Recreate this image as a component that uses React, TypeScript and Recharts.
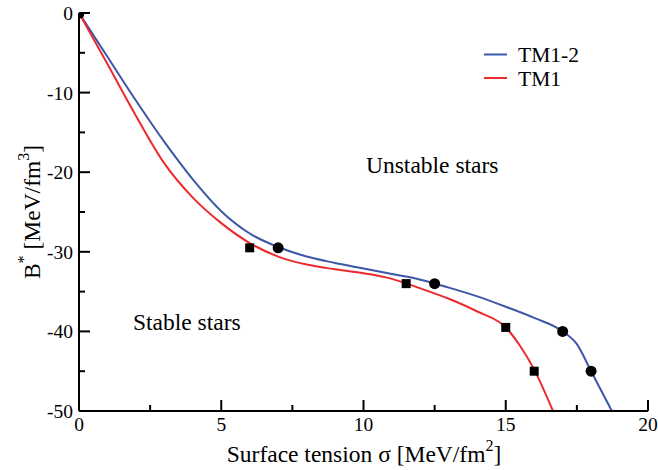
import React from 'react';
import { ComposedChart, Line, Scatter, XAxis, YAxis } from 'recharts';

// curve samples (sigma in MeV/fm^2, B* in MeV/fm^3)
const tm12CurveX = [0, 1, 2, 3, 4, 5, 6, 7, 8, 9, 10, 11, 12, 13, 14, 15, 16, 17, 17.5, 18, 18.73];
const tm12CurveY = [0, -5.5, -11, -16.2, -20.9, -24.9, -27.7, -29.4, -30.6, -31.4, -32.1, -32.8, -33.5, -34.5, -35.6, -36.9, -38.3, -40, -41.6, -45, -50];
const tm1CurveX = [0, 1, 2, 3, 4, 5, 6, 7, 8, 9, 10, 11, 12, 13, 14, 15, 15.5, 16, 16.66];
const tm1CurveY = [0, -6.4, -12.9, -18.9, -23.2, -26.4, -28.9, -30.6, -31.6, -32.2, -32.7, -33.4, -34.6, -35.9, -37.5, -39.5, -41.8, -44.8, -50];

// marked points
const tm12PointX = [0, 7, 12.5, 17, 18];
const tm12PointY = [0, -29.5, -34, -40, -45];
const tm1PointX = [0, 6, 11.5, 15, 16];
const tm1PointY = [0, -29.5, -34, -39.5, -45];

const xTicks = [0, 2.5, 5, 7.5, 10, 12.5, 15, 17.5, 20];
const yTicks = [0, -5, -10, -15, -20, -25, -30, -35, -40, -45, -50];

const seriesNames = ['TM1-2', 'TM1'];
const seriesColors = ['#3c57a8', '#ec2a2e'];

const zip = (xs: number[], ys: number[]) => xs.map((x, i) => ({ x, y: ys[i] }));

const tm12Curve = zip(tm12CurveX, tm12CurveY);
const tm1Curve = zip(tm1CurveX, tm1CurveY);
const tm12Points = zip(tm12PointX, tm12PointY);
const tm1Points = zip(tm1PointX, tm1PointY);

const FONT = '"Liberation Serif", "Times New Roman", serif';
const MAJOR = 11;
const MINOR = 6;

const isMajorX = (v: number) => v % 5 === 0;
const isMajorY = (v: number) => v % 10 === 0;

const BottomTick = (props: any) => {
  const { x, y, payload } = props;
  const major = isMajorX(payload.value);
  return (
    <g>
      <line x1={x} x2={x} y1={y} y2={y - (major ? MAJOR : MINOR)} stroke="#000" strokeWidth={2} />
      {major && (
        <text x={x} y={y + 20} textAnchor="middle" fontFamily={FONT} fontSize={19.5} fill="#000">
          {payload.value}
        </text>
      )}
    </g>
  );
};

const TopTick = (props: any) => {
  const { x, y, payload } = props;
  const major = isMajorX(payload.value);
  return <line x1={x} x2={x} y1={y} y2={y + (major ? MAJOR : MINOR)} stroke="#000" strokeWidth={2} />;
};

const LeftTick = (props: any) => {
  const { x, y, payload } = props;
  const major = isMajorY(payload.value);
  return (
    <g>
      <line x1={x} x2={x + (major ? MAJOR : MINOR)} y1={y} y2={y} stroke="#000" strokeWidth={2} />
      {major && (
        <text x={x - 6} y={y + 7} textAnchor="end" fontFamily={FONT} fontSize={19.5} fill="#000">
          {payload.value}
        </text>
      )}
    </g>
  );
};

const RightTick = (props: any) => {
  const { x, y, payload } = props;
  const major = isMajorY(payload.value);
  return <line x1={x} x2={x - (major ? MAJOR : MINOR)} y1={y} y2={y} stroke="#000" strokeWidth={2} />;
};

const Circle = (props: any) => <circle cx={props.cx} cy={props.cy} r={5.5} fill="#000" />;
const Square = (props: any) => <rect x={props.cx - 4.5} y={props.cy - 4.5} width={9} height={9} fill="#000" />;

const axisLine = { stroke: '#000', strokeWidth: 2 };

export default function App() {
  return (
    <div style={{ position: 'absolute', left: 0, top: 0, width: 658, height: 470, background: '#fff' }}>
      <ComposedChart width={658} height={470} margin={{ top: 13, right: 10, bottom: 0, left: 0 }}>
        <XAxis
          xAxisId="b"
          type="number"
          dataKey="x"
          domain={[0, 20]}
          ticks={xTicks}
          interval={0}
          allowDataOverflow
          height={59}
          tickSize={0}
          tickMargin={0}
          tickLine={false}
          axisLine={axisLine}
          tick={BottomTick}
        />
        <XAxis
          xAxisId="t"
          orientation="top"
          type="number"
          dataKey="x"
          domain={[0, 20]}
          ticks={xTicks}
          interval={0}
          allowDataOverflow
          height={0}
          tickSize={0}
          tickMargin={0}
          tickLine={false}
          axisLine={axisLine}
          tick={TopTick}
        />
        <YAxis
          yAxisId="l"
          type="number"
          dataKey="y"
          domain={[-50, 0]}
          ticks={yTicks}
          interval={0}
          allowDataOverflow
          width={79}
          tickSize={0}
          tickMargin={0}
          tickLine={false}
          axisLine={axisLine}
          tick={LeftTick}
        />
        <YAxis
          yAxisId="r"
          orientation="right"
          type="number"
          dataKey="y"
          domain={[-50, 0]}
          ticks={yTicks}
          interval={0}
          allowDataOverflow
          width={0}
          tickSize={0}
          tickMargin={0}
          tickLine={false}
          axisLine={axisLine}
          tick={RightTick}
        />
        <Line
          xAxisId="b"
          yAxisId="l"
          data={tm12Curve}
          dataKey="y"
          type="monotone"
          stroke={seriesColors[0]}
          strokeWidth={2}
          dot={false}
          activeDot={false}
          isAnimationActive={false}
        />
        <Line
          xAxisId="b"
          yAxisId="l"
          data={tm1Curve}
          dataKey="y"
          type="monotone"
          stroke={seriesColors[1]}
          strokeWidth={2}
          dot={false}
          activeDot={false}
          isAnimationActive={false}
        />
        <Scatter xAxisId="b" yAxisId="l" data={tm1Points} dataKey="y" shape={Square} isAnimationActive={false} />
        <Scatter xAxisId="b" yAxisId="l" data={tm12Points} dataKey="y" shape={Circle} isAnimationActive={false} />
      </ComposedChart>
      <svg
        width={658}
        height={470}
        style={{ position: 'absolute', left: 0, top: 0, pointerEvents: 'none' }}
        fontFamily={FONT}
        fill="#000"
      >
        {seriesNames.map((name, i) => (
          <g key={name}>
            <line x1={484} x2={507} y1={54.5 + i * 23.5} y2={54.5 + i * 23.5} stroke={seriesColors[i]} strokeWidth={2} />
            <text x={518} y={62 + i * 24} fontSize={21.5}>
              {name}
            </text>
          </g>
        ))}
        <text x={366} y={173} fontSize={23.5}>
          Unstable stars
        </text>
        <text x={133} y={330} fontSize={23.5}>
          Stable stars
        </text>
        <text x={364} y={462} fontSize={23.5} textAnchor="middle">
          Surface tension σ [MeV/fm
          <tspan dy={-11} fontSize={16}>
            2
          </tspan>
          <tspan dy={11}>]</tspan>
        </text>
        <text x={40} y={212} fontSize={23.5} textAnchor="middle" transform="rotate(-90 40 212)">
          B
          <tspan dy={-11} fontSize={16}>
            *
          </tspan>
          <tspan dy={11}> [MeV/fm</tspan>
          <tspan dy={-11} fontSize={16}>
            3
          </tspan>
          <tspan dy={11}>]</tspan>
        </text>
      </svg>
    </div>
  );
}
